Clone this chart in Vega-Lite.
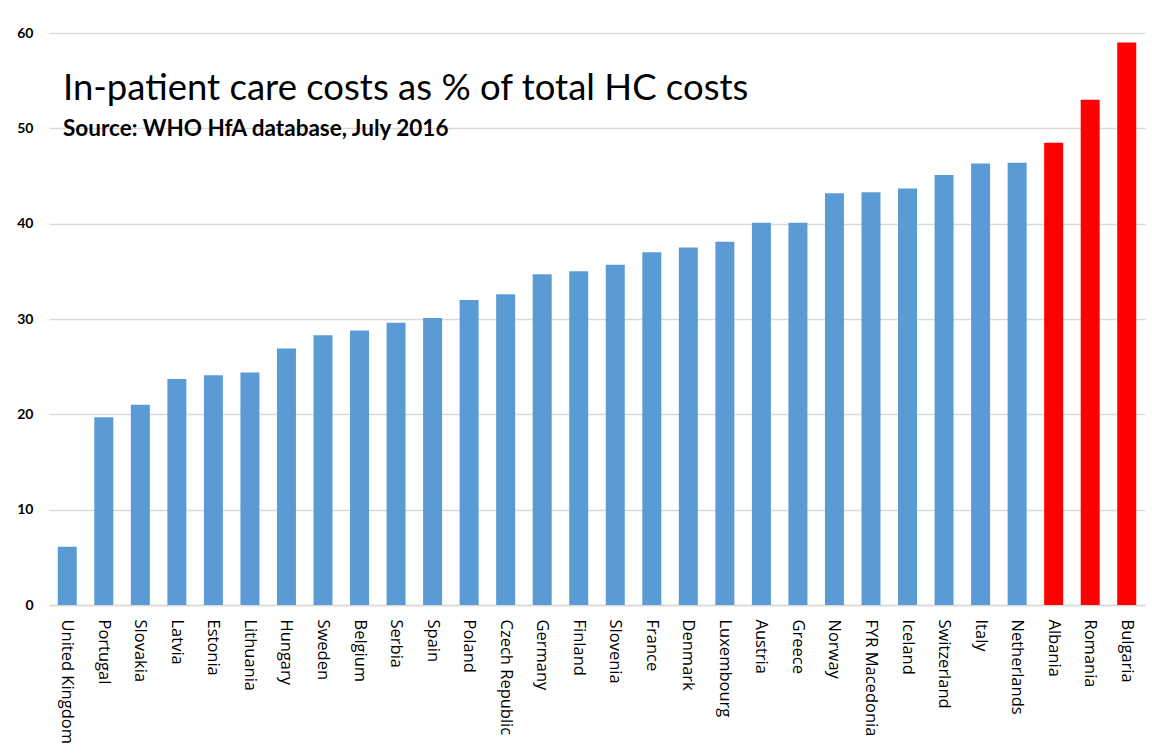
{
  "$schema": "https://vega.github.io/schema/vega-lite/v6.json",
  "autosize": {"type": "none"},
  "width": 1096,
  "height": 572,
  "padding": {"left": 49, "top": 33, "right": 7, "bottom": 148},
  "background": "white",
  "title": {
    "text": "In-patient care costs as % of total HC costs",
    "subtitle": "Source: WHO HfA database, July 2016",
    "anchor": "start",
    "frame": "group",
    "dx": 14,
    "dy": 118,
    "font": "Lato",
    "fontSize": 36.5,
    "fontWeight": "normal",
    "color": "black",
    "subtitleFont": "Lato",
    "subtitleFontSize": 22.5,
    "subtitleFontWeight": "bold",
    "subtitleColor": "black",
    "subtitlePadding": 10
  },
  "data": {
    "values": [
      {"country": "United Kingdom", "value": 6.1, "group": "Other"},
      {"country": "Portugal", "value": 19.7, "group": "Other"},
      {"country": "Slovakia", "value": 21.0, "group": "Other"},
      {"country": "Latvia", "value": 23.7, "group": "Other"},
      {"country": "Estonia", "value": 24.1, "group": "Other"},
      {"country": "Lithuania", "value": 24.4, "group": "Other"},
      {"country": "Hungary", "value": 26.9, "group": "Other"},
      {"country": "Sweden", "value": 28.3, "group": "Other"},
      {"country": "Belgium", "value": 28.8, "group": "Other"},
      {"country": "Serbia", "value": 29.6, "group": "Other"},
      {"country": "Spain", "value": 30.1, "group": "Other"},
      {"country": "Poland", "value": 32.0, "group": "Other"},
      {"country": "Czech Republic", "value": 32.6, "group": "Other"},
      {"country": "Germany", "value": 34.7, "group": "Other"},
      {"country": "Finland", "value": 35.0, "group": "Other"},
      {"country": "Slovenia", "value": 35.7, "group": "Other"},
      {"country": "France", "value": 37.0, "group": "Other"},
      {"country": "Denmark", "value": 37.5, "group": "Other"},
      {"country": "Luxembourg", "value": 38.1, "group": "Other"},
      {"country": "Austria", "value": 40.1, "group": "Other"},
      {"country": "Greece", "value": 40.1, "group": "Other"},
      {"country": "Norway", "value": 43.2, "group": "Other"},
      {"country": "FYR Macedonia", "value": 43.3, "group": "Other"},
      {"country": "Iceland", "value": 43.7, "group": "Other"},
      {"country": "Switzerland", "value": 45.1, "group": "Other"},
      {"country": "Italy", "value": 46.3, "group": "Other"},
      {"country": "Netherlands", "value": 46.4, "group": "Other"},
      {"country": "Albania", "value": 48.5, "group": "Highlighted"},
      {"country": "Romania", "value": 53.0, "group": "Highlighted"},
      {"country": "Bulgaria", "value": 59.0, "group": "Highlighted"}
    ]
  },
  "mark": {"type": "bar"},
  "encoding": {
    "x": {
      "field": "country",
      "type": "nominal",
      "sort": null,
      "scale": {"paddingInner": 0.48, "paddingOuter": 0.24},
      "axis": {
        "title": null,
        "labelAngle": 90,
        "labelAlign": "left",
        "labelBaseline": "middle",
        "labelFont": "Open Sans",
        "labelFontSize": 16.5,
        "labelColor": "black",
        "labelPadding": 14,
        "ticks": false,
        "domainColor": "#D9D9D9",
        "domainWidth": 1.5,
        "labelLimit": 200
      }
    },
    "y": {
      "field": "value",
      "type": "quantitative",
      "scale": {"domain": [0, 60], "nice": false},
      "axis": {
        "title": null,
        "values": [0, 10, 20, 30, 40, 50, 60],
        "ticks": false,
        "domain": false,
        "grid": true,
        "gridColor": "#D9D9D9",
        "gridWidth": 1.5,
        "labelFont": "Lato",
        "labelFontWeight": "bold",
        "labelFontSize": 14,
        "labelColor": "black",
        "labelPadding": 16
      }
    },
    "color": {
      "field": "group",
      "type": "nominal",
      "scale": {"domain": ["Other", "Highlighted"], "range": ["#5B9BD5", "#FF0000"]},
      "legend": null
    }
  },
  "config": {"view": {"stroke": null}}
}
